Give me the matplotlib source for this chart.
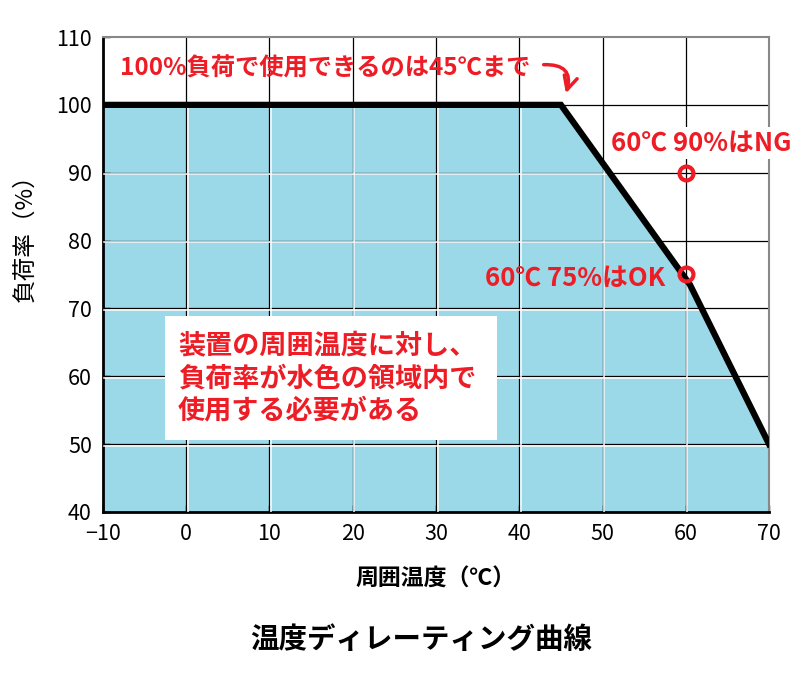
import matplotlib
matplotlib.use("Agg")
import matplotlib.pyplot as plt
from matplotlib.patches import Rectangle, Polygon
import matplotlib.transforms as mtransforms

plt.rcParams['font.family'] = ['Noto Sans CJK JP', 'DejaVu Sans']
plt.rcParams['axes.unicode_minus'] = True

# derating curve (temperature degC, load %)
temp = [-10, 45, 60.5, 70]
load = [100, 100, 73.5, 50]

# check points at 60 degC
check_temp = [60, 60]
check_load = [90, 75]

xticks = list(range(-10, 71, 10))
yticks = list(range(40, 111, 10))

RED = '#ee1c25'
FILL = '#9bd8e8'

fig = plt.figure(figsize=(8.09, 6.74), dpi=100)
ax = fig.add_axes([0.1273, 0.2404, 0.8233, 0.7047])
ax.set_xlim(-10, 70)
ax.set_ylim(40, 110)
ax.set_xticks(xticks)
ax.set_yticks(yticks)
ax.set_xticklabels(['\u221210' if t < 0 else str(t) for t in xticks])

# filled region under the curve
poly_x = temp + [70, -10]
poly_y = load + [40, 40]
ax.fill(poly_x, poly_y, color=FILL, lw=0, zorder=1)

# black grid
for t in xticks[1:-1]:
    ax.axvline(t, color='black', lw=0.9, zorder=2)
for t in yticks[1:-1]:
    ax.axhline(t, color='black', lw=0.9, zorder=2)

# white grid inside the fill, shifted one pixel
clip = Polygon(list(zip(poly_x, poly_y)), closed=True, transform=ax.transData)
shift = mtransforms.offset_copy(ax.transData, fig=fig, x=1.5, y=-1.5, units='dots')
for t in xticks[1:-1]:
    ln, = ax.plot([t, t], [40, 110], color='white', lw=1.1, zorder=3, transform=shift)
    ln.set_clip_path(clip)
for t in yticks[1:-1]:
    ln, = ax.plot([-10, 70], [t, t], color='white', lw=1.1, zorder=3, transform=shift)
    ln.set_clip_path(clip)

ax.plot(temp, load, color='black', lw=4.5, zorder=5, solid_joinstyle='miter')
ax.plot(check_temp, check_load, 'o', ms=10, mfc='none', mec=RED, mew=3, zorder=6)

for s in ['top', 'right']:
    ax.spines[s].set_color('#888888')
    ax.spines[s].set_linewidth(1.5)
for s in ['left', 'bottom']:
    ax.spines[s].set_color('black')
    ax.spines[s].set_linewidth(2)
ax.tick_params(direction='in', length=5, width=1, labelsize=15.5, pad=8)

ax.set_xlabel('周囲温度（℃）', fontsize=16.5, fontweight='bold', labelpad=16)
ax.set_ylabel('負荷率（%）', fontsize=17)
ax.yaxis.set_label_coords(-0.10, 0.59)

# annotations
ax.text(-8, 105.4, '100%負荷で使用できるのは45℃まで', color=RED, fontsize=17.5,
        fontweight='bold', va='center', ha='left', zorder=7)
ax.annotate('', xy=(45.5, 101.3), xytext=(42.6, 105.9),
            arrowprops=dict(arrowstyle='->', color=RED, lw=2.5,
                            connectionstyle='arc3,rad=-0.75', mutation_scale=24), zorder=7)
ax.text(51.0, 94.4, '60℃ 90%はNG', color=RED, fontsize=18.5, fontweight='bold',
        va='center', ha='left', zorder=7, clip_on=False,
        bbox=dict(facecolor='white', edgecolor='none', pad=2))
ax.text(57.6, 74.4, '60℃ 75%はOK', color=RED, fontsize=18.5, fontweight='bold',
        va='center', ha='right', zorder=7)

ax.add_patch(Rectangle((-2.55, 50.6), 39.85, 18.3, facecolor='white', edgecolor='none', zorder=6))
ax.text(-1.0, 59.7, '装置の周囲温度に対し、\n負荷率が水色の領域内で\n使用する必要がある',
        color=RED, fontsize=19.5, fontweight='bold', va='center', ha='left',
        linespacing=1.2, zorder=7)

fig.text(0.52, 0.05, '温度ディレーティング曲線', fontsize=20.5, fontweight='bold',
         ha='center', va='center')

fig.savefig('out.png', dpi=100)
